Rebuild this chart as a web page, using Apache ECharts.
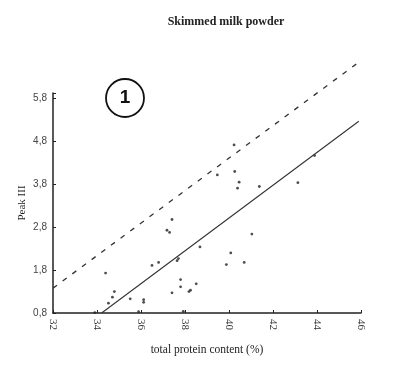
<!DOCTYPE html>
<html><head><meta charset="utf-8">
<script src="https://cdn.jsdelivr.net/npm/echarts@6/dist/echarts.min.js"></script>
<style>html,body{margin:0;padding:0;background:#fff}#c{width:408px;height:370px}</style>
</head><body><div id="c"></div>
<script>
const titleText = 'Skimmed milk powder';
const xName = 'total protein content (%)';
const yName = 'Peak III';
const xTicks = [32, 34, 36, 38, 40, 42, 44, 46];
const yTicks = [0.8, 1.8, 2.8, 3.8, 4.8, 5.8];
const proteinX = [37.41, 37.18, 37.3, 34.39, 36.5, 36.8, 37.64, 37.7, 34.79, 34.7, 34.52, 35.51, 36.12, 36.12, 35.89, 33.9, 37.92, 37.8, 37.8, 37.41, 38.18, 38.25, 38.51, 38.68, 40.23, 39.47, 40.26, 40.46, 40.39, 41.38, 43.13, 40.08, 39.88, 40.69, 43.89, 41.04];
const peakY = [2.98, 2.73, 2.68, 1.73, 1.91, 1.98, 2.02, 2.07, 1.30, 1.17, 1.03, 1.13, 1.11, 1.05, 0.83, 0.81, 0.84, 1.58, 1.41, 1.27, 1.30, 1.33, 1.48, 2.34, 4.72, 4.02, 4.10, 3.85, 3.71, 3.75, 3.84, 2.20, 1.93, 1.98, 4.47, 2.64];
const upperLineX = [32, 45.8];
const upperLineY = [1.38, 6.61];
const fitLineX = [34.21, 45.9];
const fitLineY = [0.8, 5.27];
const panelLabel = '1';

const chart = echarts.init(document.getElementById('c'), null, {renderer: 'canvas'});
chart.setOption({
  animation: false,
  backgroundColor: '#fff',
  title: {
    text: titleText, left: 221, top: 11, textAlign: 'center',
    textStyle: {fontFamily: 'Liberation Serif', fontSize: 12, fontWeight: 'bold', color: '#222'}
  },
  grid: {left: 53, right: 47, top: 93, bottom: 57},
  xAxis: {
    type: 'value', min: 32, max: 46, interval: 2,
    name: xName, nameLocation: 'middle', nameGap: 31, nameMoveOverlap: false,
    nameTextStyle: {fontFamily: 'Liberation Serif', fontSize: 11.5, color: '#222'},
    axisLine: {lineStyle: {color: '#222', width: 1.5}},
    axisTick: {inside: true, length: 3, lineStyle: {color: '#222'}},
    axisLabel: {rotate: -90, fontFamily: 'Liberation Serif', fontSize: 11, color: '#333', margin: 6,
      formatter: v => xTicks.includes(v) ? String(v) : ''},
    splitLine: {show: false}
  },
  yAxis: {
    type: 'value', min: 0.8, max: 5.93, interval: 1,
    name: yName, nameLocation: 'middle', nameGap: 25, nameMoveOverlap: false,
    nameTextStyle: {fontFamily: 'Liberation Serif', fontSize: 11, color: '#222'},
    axisLine: {show: true, lineStyle: {color: '#222', width: 1.5}},
    axisTick: {show: true, inside: true, length: 3, lineStyle: {color: '#222'}},
    axisLabel: {fontFamily: 'Liberation Sans', fontSize: 10, color: '#444', margin: 6,
      formatter: v => {
        const t = yTicks.find(k => Math.abs(k - v) < 1e-6);
        return t === undefined ? '' : t.toFixed(1).replace('.', ',');
      }},
    splitLine: {show: false}
  },
  series: [
    {type: 'line', data: upperLineX.map((x, i) => [x, upperLineY[i]]), showSymbol: false, clip: false,
     lineStyle: {color: '#333', width: 1.3, type: [5, 7]}},
    {type: 'line', data: fitLineX.map((x, i) => [x, fitLineY[i]]), showSymbol: false, clip: false,
     lineStyle: {color: '#333', width: 1.1}},
    {type: 'scatter', data: proteinX.map((x, i) => [x, peakY[i]]), symbol: 'circle', symbolSize: 2.8,
     itemStyle: {color: '#222'}}
  ],
  graphic: [
    {type: 'circle', shape: {cx: 125, cy: 98, r: 19}, style: {fill: 'none', stroke: '#111', lineWidth: 1.8}},
    {type: 'text', x: 125, y: 98, style: {text: panelLabel, x: 0, y: 0, align: 'center', verticalAlign: 'middle',
      font: 'bold 19px "Liberation Sans"', fill: '#111'}}
  ]
});
</script></body></html>
